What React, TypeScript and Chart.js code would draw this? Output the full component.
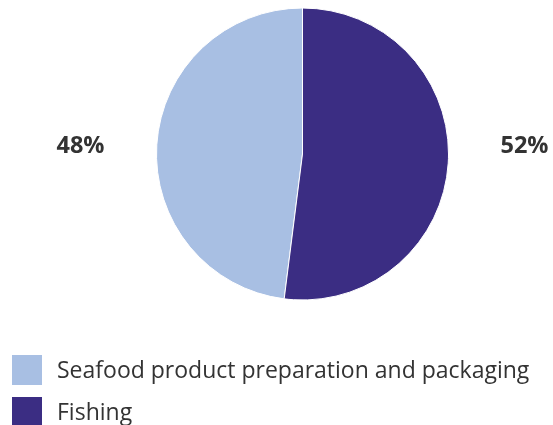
import React, { useEffect, useRef } from "react";
import { Chart, registerables } from "chart.js";

Chart.register(...registerables);

const categories = ["Seafood product preparation and packaging", "Fishing"];
const shares = [48, 52];
const colors = ["#A8BFE3", "#3B2D83"];
const valueLabels = ["48%", "52%"];

const TEXT = "#333333";
const FONT = "'Open Sans', sans-serif";

const overlay = {
  id: "overlay",
  afterDraw(chart: any) {
    const ctx = chart.ctx as CanvasRenderingContext2D;
    const meta = chart.getDatasetMeta(0);
    const arc = meta.data[0];
    const cx = arc.x;
    const cy = arc.y;
    ctx.save();
    ctx.fillStyle = TEXT;
    ctx.font = `bold 23.5px ${FONT}`;
    ctx.textAlign = "center";
    ctx.textBaseline = "middle";
    const labels = chart.data.labels as string[];
    labels.forEach((_, i) => {
      const el = meta.data[i];
      const mid = (el.startAngle + el.endAngle) / 2;
      const side = Math.cos(mid) >= 0 ? 1 : -1;
      ctx.fillText(valueLabels[i], cx + side * 222, cy - 8);
    });
    ctx.textAlign = "left";
    ctx.font = `23px ${FONT}`;
    labels.forEach((lab, i) => {
      const y = 355 + i * 42;
      ctx.fillStyle = colors[i];
      ctx.fillRect(12, y, 30, 30);
      ctx.fillStyle = TEXT;
      ctx.fillText(lab, 57, y + 16);
    });
    ctx.restore();
  },
};

export default function App() {
  const ref = useRef<HTMLCanvasElement>(null);
  useEffect(() => {
    document.body.style.margin = "0";
    const total = shares.reduce((a, b) => a + b, 0);
    const chart = new Chart(ref.current!, {
      type: "pie",
      data: {
        labels: categories,
        datasets: [
          {
            data: shares,
            backgroundColor: colors,
            borderColor: "#ffffff",
            borderWidth: 1,
          },
        ],
      },
      options: {
        animation: false,
        responsive: false,
        rotation: (shares[1] / total) * 360,
        layout: { padding: { left: 156, right: 104, top: 7.5, bottom: 124.5 } },
        plugins: { legend: { display: false }, tooltip: { enabled: false } },
      },
      plugins: [overlay],
    });
    return () => chart.destroy();
  }, []);
  return (
    <div style={{ width: 553, height: 425 }}>
      <canvas ref={ref} width={553} height={425} style={{ display: "block" }} />
    </div>
  );
}
